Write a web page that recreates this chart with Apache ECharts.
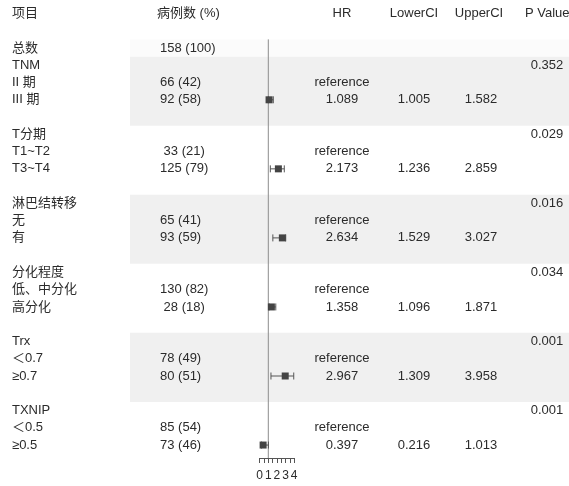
<!DOCTYPE html>
<html>
<head>
<meta charset="utf-8">
<script src="https://cdn.jsdelivr.net/npm/echarts/dist/echarts.min.js"></script>
<style>
  html, body { margin: 0; padding: 0; background: #fff; }
  #main { width: 569px; height: 486px; }
</style>
</head>
<body>
<div id="main"></div>
<script>
// rows of the table, top to bottom ('' = spacer row)
const rowLabels = ['总数', 'TNM', 'II 期', 'III 期', '',
  'T分期', 'T1~T2', 'T3~T4', '',
  '淋巴结转移', '无', '有', '',
  '分化程度', '低、中分化', '高分化', '',
  'Trx', '＜0.7', '≥0.7', '',
  'TXNIP', '＜0.5', '≥0.5'];
const caseCounts = ['158 (100)', '', '66 (42)', '92 (58)', '',
  '', ' 33 (21)', '125 (79)', '',
  '', '65 (41)', '93 (59)', '',
  '', '130 (82)', ' 28 (18)', '',
  '', '78 (49)', '80 (51)', '',
  '', '85 (54)', '73 (46)'];
const groupRows = [1, 5, 9, 13, 17, 21];
const hr = [1.089, 2.173, 2.634, 1.358, 2.967, 0.397];
const lowerCI = [1.005, 1.236, 1.529, 1.096, 1.309, 0.216];
const upperCI = [1.582, 2.859, 3.027, 1.871, 3.958, 1.013];
const pValues = ['0.352', '0.029', '0.016', '0.034', '0.001', '0.001'];
const headers = ['项目', '病例数 (%)', 'HR', 'LowerCI', 'UpperCI', 'P Value'];
const refValue = 1;

const chart = echarts.init(document.getElementById('main'));
const FONT = '"Liberation Sans", "Noto Sans CJK SC", sans-serif';
const TXT = '#2b2b2b';
const yMin = -2.5, yMax = 23.75;

// one text column: items = [[x, row, text]]
function textSeries(items, align) {
  return {
    type: 'custom',
    xAxisIndex: 0, yAxisIndex: 0,
    z: 3,
    silent: true,
    data: items.map(d => [d[0], d[1]]),
    renderItem: (params, api) => {
      const p = api.coord([api.value(0), api.value(1)]);
      return {
        type: 'text',
        x: p[0], y: p[1],
        style: {
          text: items[params.dataIndex][2],
          fill: TXT,
          fontSize: 13,
          fontFamily: FONT,
          align: align,
          verticalAlign: 'middle'
        }
      };
    }
  };
}

const headerRow = -2;
const colItem = [[12, headerRow, headers[0]]];
const colCount = [[157, headerRow, headers[1]]];
rowLabels.forEach((t, i) => { if (t) colItem.push([12, i, t]); });
caseCounts.forEach((t, i) => { if (t) colCount.push([160, i, t]); });

const colHR = [[342, headerRow, headers[2]]];
const colLo = [[414, headerRow, headers[3]]];
const colUp = [[479, headerRow, headers[4]]];
const colP = [[525, headerRow, headers[5]]];
const colPv = [];
groupRows.forEach((r, i) => {
  colHR.push([342, r + 1, 'reference']);
  colHR.push([342, r + 2, hr[i].toFixed(3)]);
  colLo.push([414, r + 2, lowerCI[i].toFixed(3)]);
  colUp.push([481, r + 2, upperCI[i].toFixed(3)]);
  colPv.push([547, r, pValues[i]]);
});

// shaded bands: every other group, plus faint band on total row
const bands = [[-0.5, 0.5, '#fbfbfb']];
groupRows.forEach((r, i) => { if (i % 2 === 0) bands.push([r - 0.5, r + 3.5, '#f0f0f0']); });

const forestData = groupRows.map((r, i) => [r + 2, hr[i], lowerCI[i], upperCI[i]]);

const option = {
  animation: false,
  backgroundColor: '#fff',
  grid: [
    { left: 0, width: 569, top: 4.85, height: 453.15 },
    { left: 259.7, width: 34.4, top: 4.85, height: 453.15 }
  ],
  xAxis: [
    { gridIndex: 0, type: 'value', min: 0, max: 569, show: false },
    {
      gridIndex: 1, type: 'value', min: 0, max: 4, interval: 0.5,
      position: 'bottom',
      z: 6,
      axisLine: { show: true, onZero: false, lineStyle: { color: '#555', width: 1 } },
      axisTick: { show: true, length: 5, lineStyle: { color: '#555' } },
      splitLine: { show: false },
      axisLabel: {
        margin: 12, color: TXT, fontSize: 12, fontFamily: FONT,
        formatter: v => (Number.isInteger(v) ? String(v) : '')
      }
    }
  ],
  yAxis: [
    { gridIndex: 0, type: 'value', min: yMin, max: yMax, inverse: true, show: false },
    { gridIndex: 1, type: 'value', min: yMin, max: yMax, inverse: true, show: false }
  ],
  series: [
    {
      type: 'custom',
      xAxisIndex: 0, yAxisIndex: 0,
      z: 1, silent: true,
      data: bands.map(b => [b[0], b[1]]),
      renderItem: (params, api) => {
        const a = api.coord([130, api.value(0)]);
        const b = api.coord([569, api.value(1)]);
        return {
          type: 'rect',
          shape: { x: a[0], y: a[1], width: b[0] - a[0], height: b[1] - a[1] },
          style: { fill: bands[params.dataIndex][2] }
        };
      }
    },
    textSeries(colItem, 'left'),
    textSeries(colCount, 'left'),
    textSeries(colHR, 'center'),
    textSeries(colLo, 'center'),
    textSeries(colUp, 'center'),
    textSeries(colP, 'left'),
    textSeries(colPv, 'center'),
    {
      type: 'line',
      xAxisIndex: 1, yAxisIndex: 1,
      z: 4, silent: true,
      symbol: 'none',
      data: [[refValue, -0.5], [refValue, yMax]],
      lineStyle: { color: '#8c8c8c', width: 1 }
    },
    {
      type: 'custom',
      xAxisIndex: 1, yAxisIndex: 1,
      z: 5, silent: true,
      clip: false,
      encode: { x: [1, 2, 3], y: 0 },
      data: forestData,
      renderItem: (params, api) => {
        const row = api.value(0);
        const c = api.coord([api.value(1), row]);
        const l = api.coord([api.value(2), row]);
        const h = api.coord([api.value(3), row]);
        const ls = { stroke: '#555', lineWidth: 1 };
        return {
          type: 'group',
          children: [
            { type: 'line', shape: { x1: l[0], y1: c[1], x2: h[0], y2: c[1] }, style: ls },
            { type: 'line', shape: { x1: l[0], y1: c[1] - 3.5, x2: l[0], y2: c[1] + 3.5 }, style: ls },
            { type: 'line', shape: { x1: h[0], y1: c[1] - 3.5, x2: h[0], y2: c[1] + 3.5 }, style: ls },
            { type: 'rect', shape: { x: c[0] - 3.5, y: c[1] - 3.5, width: 7, height: 7 }, style: { fill: '#444' } }
          ]
        };
      }
    }
  ]
};

chart.setOption(option);
</script>
</body>
</html>
